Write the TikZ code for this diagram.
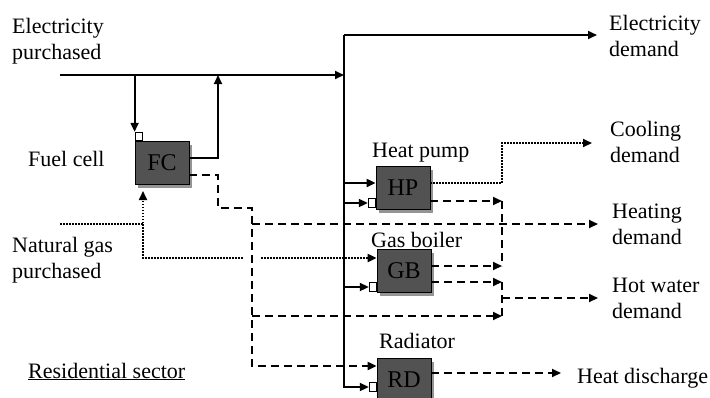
\documentclass[tikz,border=0pt]{standalone}
\usepackage{fontspec}
\setmainfont{Liberation Serif}
\usetikzlibrary{arrows.meta,shadows}
\begin{document}
\begin{tikzpicture}[x=1pt,y=-1pt,
  every node/.style={font=\fontsize{22}{25.5}\selectfont, inner sep=0pt},
  lbl/.style={anchor=base west, align=left},
  unit/.style={draw=black, line width=0.8pt, fill=black!68, minimum width=54pt, minimum height=43pt,
    font=\fontsize{24}{26}\selectfont,
    drop shadow={shadow xshift=3pt, shadow yshift=-3pt, fill=black!42, opacity=1}},
  port/.style={draw=black, line width=0.8pt, fill=white, minimum width=7pt, minimum height=8.5pt},
  elec/.style={line width=2pt},
  heat/.style={line width=2pt, dash pattern=on 8pt off 5pt},
  gas/.style={line width=2pt, dash pattern=on 1.5pt off 1.5pt},
  tip/.style={-{Triangle[length=9pt,width=8pt]}}
]
\useasboundingbox[fill=white] (0,0) rectangle (710,397);

% units
\node[unit] (FC) at (162,163) {FC};
\node[port, anchor=south west] (FCp) at (FC.north west) {};
\node[unit] (HP) at (403,188) {HP};
\node[port, anchor=east] (HPp) at ([yshift=-15pt]HP.west) {};
\node[unit] (GB) at (404,271) {GB};
\node[port, anchor=east] (GBp) at ([yshift=-16pt]GB.west) {};
\node[unit] (RD) at (404,380) {RD};
\node[port, anchor=east] (RDp) at ([yshift=-7pt]RD.west) {};

% labels (base = baseline of the last line)
\node[lbl] (ep) at (12,59) {Electricity\\purchased};
\node[lbl] (fcl) at (28,166) {Fuel cell};
\node[lbl] (ngp) at (12,278) {Natural gas\\purchased};
\node[lbl] (rs) at (28,378) {\underline{Residential sector}};
\node[lbl] (ed) at (609,56) {Electricity\\demand};
\node[lbl] (cd) at (610,162) {Cooling\\demand};
\node[lbl] (hd) at (612,244) {Heating\\demand};
\node[lbl] (hwd) at (612,318) {Hot water\\demand};
\node[lbl] (hpl) at (372,157) {Heat pump};
\node[lbl] (gbl) at (371,247) {Gas boiler};
\node[lbl] (rdl) at (379,348) {Radiator};
\node[lbl] (hdl) at (577,383) {Heat discharge};

% coordinates
\coordinate (bus) at (344,35);
\coordinate (edem) at (597,35);
\coordinate (ein) at (60,75);
\coordinate (fcup) at (218,75);
\coordinate (fcturn) at (218,208);
\coordinate (htop) at (252,208);
\coordinate (hh) at (252,224);
\coordinate (hdem) at (598,224);
\coordinate (hw) at (252,316);
\coordinate (hbot) at (252,366);
\coordinate (col) at (502,0);
\coordinate (wout) at (502,298);
\coordinate (wdem) at (598,298);
\coordinate (cdem) at (592,143);
\coordinate (gin) at (60,224);
\coordinate (gsplit) at (143,224);
\coordinate (fcgas) at (143,191);
\coordinate (glow) at (143,258);
\coordinate (gapL) at (243,258);
\coordinate (gapR) at (261,258);
\coordinate (rdout) at (561,373);
\coordinate (fcel) at ([yshift=5pt]FC.east);
\coordinate (fcht) at ([yshift=-12pt]FC.east);
\coordinate (hpin) at ([yshift=5pt]HP.west);
\coordinate (hpcool) at ([yshift=5pt]HP.east);
\coordinate (hpht) at ([yshift=-13pt]HP.east);
\coordinate (gbin) at ([yshift=13pt]GB.west);
\coordinate (gbht) at ([yshift=5pt]GB.east);
\coordinate (gbhw) at ([yshift=-11pt]GB.east);
\coordinate (rdht) at ([yshift=7pt]RD.east);

% electricity
\draw[elec,tip] (ein) -- (ein -| bus);
\draw[elec,tip] (FCp.north west |- ein) -- (FCp.north west);
\draw[elec,tip] (fcel) -| (fcup);
\draw[elec,tip] (bus) -- (edem);
\draw[elec,tip] (bus) -- (bus |- RDp.west) -- (RDp.west);
\draw[elec,tip] (bus |- hpin) -- (hpin);
\draw[elec,tip] (bus |- HPp.west) -- (HPp.west);
\draw[elec,tip] (bus |- GBp.west) -- (GBp.west);

% heat
\draw[heat,tip] (fcht) -| (fcturn) -- (htop) -- (hbot) -- (hbot -| RD.west);
\draw[heat,tip] (hh) -- (hdem);
\draw[heat,tip] (hw) -- (hw -| col);
\draw[heat,tip] (hpht) -- (hpht -| col);
\draw[heat] (hpht -| col) -- (gbht -| col);
\draw[heat,tip] (gbht) -- (gbht -| col);
\draw[heat,tip] (gbhw) -- (gbhw -| col);
\draw[heat] (gbhw -| col) -- (hw -| col);
\draw[heat,tip] (wout) -- (wdem);
\draw[heat,tip] (rdht) -- (rdout);

% gas and cooling
\draw[gas,tip] (gin) -| (fcgas);
\draw[gas] (gsplit) -- (glow) -- (gapL);
\draw[gas,tip] (gapR) -- (gbin);
\draw[gas,tip] (hpcool) -| (cdem -| col) -- (cdem);
\end{tikzpicture}
\end{document}
